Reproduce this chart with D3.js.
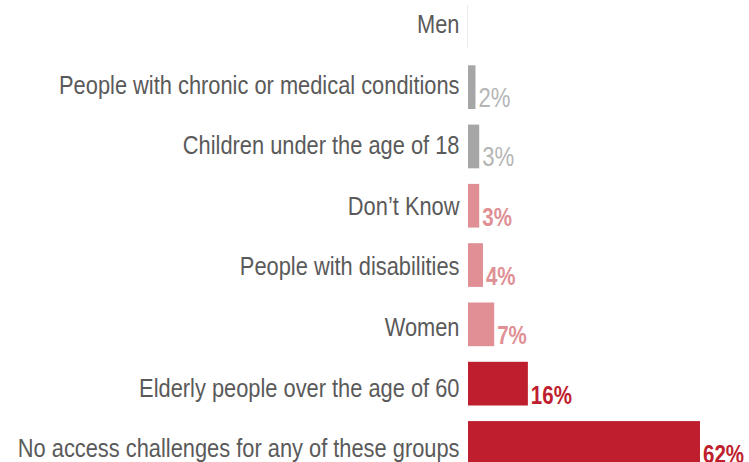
<!DOCTYPE html>
<html>
<head>
<meta charset="utf-8">
<script src="https://cdn.jsdelivr.net/npm/d3@7"></script>
<style>
  html, body { margin: 0; padding: 0; background: #fff; }
  svg { display: block; }
  text { font-family: "Liberation Sans", Arial, sans-serif; }
</style>
</head>
<body>
<svg id="chart" width="749" height="462"></svg>
<script>
// Share of respondents naming each group as facing access challenges
const categories = [
  "Men",
  "People with chronic or medical conditions",
  "Children under the age of 18",
  "Don\u2019t Know",
  "People with disabilities",
  "Women",
  "Elderly people over the age of 60",
  "No access challenges for any of these groups"
];
const values = [0, 2, 3, 3, 4, 7, 16, 62];
// Emphasis tier for each row
const tiers = ["zero", "low", "low", "mid", "mid", "mid", "high", "high"];

const rows = categories.map((c, i) => ({ cat: c, value: values[i], tier: tiers[i] }));

const svg = d3.select("#chart");

// Condensed lettering: horizontally squeezed sans
const narrowLabel = 0.84;
const narrowValue = 0.82;

const x = d3.scaleLinear().domain([0, 62]).range([468, 700]);
const yBar = d3.scaleBand().domain(categories).range([6, 464.8]).paddingInner(0.263).paddingOuter(0);
const yLabel = d3.scalePoint().domain(categories).range([24, 448]);

const barColor = d3.scaleOrdinal().domain(["zero", "low", "mid", "high"])
  .range(["#ebebeb", "#a6a6a6", "#e09094", "#be1e2d"]);
const valueColor = d3.scaleOrdinal().domain(["zero", "low", "mid", "high"])
  .range(["#b5b5b5", "#b5b5b5", "#e09094", "#be1e2d"]);

// Bars (a hairline marks a zero value)
svg.append("g").selectAll("rect").data(rows).join("rect")
  .attr("x", d => d.value === 0 ? x(0) - 1 : x(0))
  .attr("y", d => yBar(d.cat) - (d.value === 0 ? 1 : 0))
  .attr("width", d => Math.max(x(d.value) - x(0), 1))
  .attr("height", yBar.bandwidth())
  .attr("fill", d => barColor(d.tier));

// Category labels
svg.append("g").selectAll("text").data(rows).join("text")
  .attr("transform", d => `translate(459.5,${yLabel(d.cat)}) scale(${narrowLabel},1)`)
  .attr("dy", "0.35em")
  .attr("text-anchor", "end")
  .attr("fill", "#5a5a5a")
  .attr("font-size", 26)
  .text(d => d.cat);

// Value labels
svg.append("g").selectAll("text").data(rows.filter(d => d.value > 0)).join("text")
  .attr("transform", d => `translate(${x(d.value) + 3},${yBar(d.cat) + yBar.bandwidth() - 2}) scale(${narrowValue},1)`)
  .attr("fill", d => valueColor(d.tier))
  .attr("font-size", d => d.tier === "low" ? 27 : 25)
  .attr("font-weight", d => d.tier === "low" ? "normal" : "bold")
  .text(d => d.value + "%");
</script>
</body>
</html>
